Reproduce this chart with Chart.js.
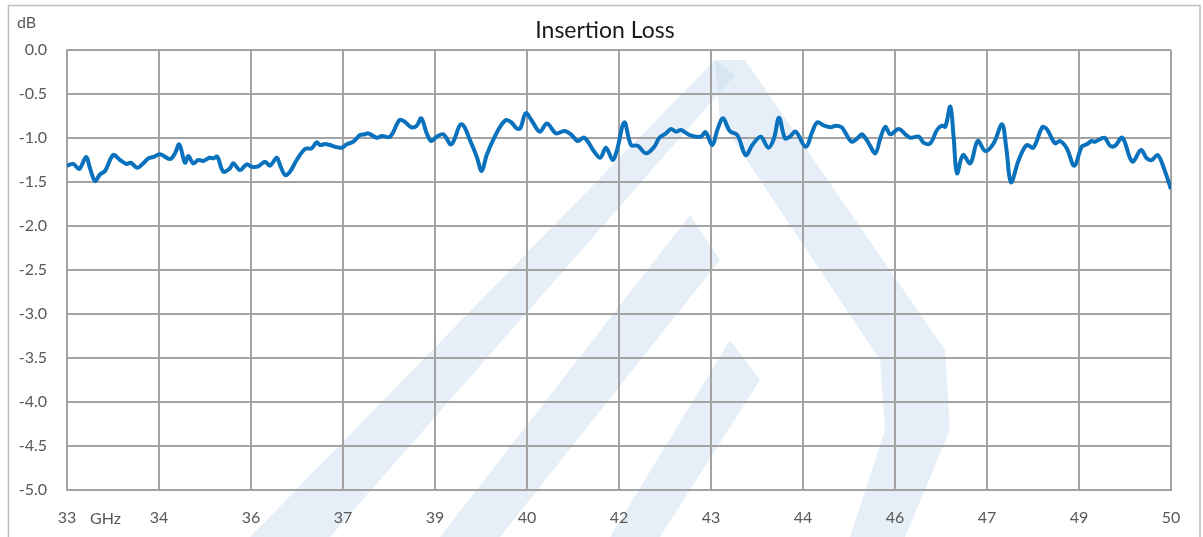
<!DOCTYPE html>
<html><head><meta charset="utf-8">
<script src="https://cdn.jsdelivr.net/npm/chart.js@4"></script>
<style>html,body{margin:0;padding:0;background:#fff;}#wrap{width:1203px;height:537px;position:relative;}</style>
</head><body><div id="wrap"><canvas id="c"></canvas></div>
<script>
const chartTitle = 'Insertion Loss';
const yUnit = 'dB';
const xUnit = 'GHz';
const xMin = 33, xMax = 50;
const xTickLabels = ['33','34','36','37','39','40','42','43','44','46','47','49','50'];
const freqGHz = [
33.000,33.097,33.189,33.293,33.354,33.431,33.508,33.585,33.713,33.816,33.919,33.981,34.083,34.175,34.252,34.329,34.432,34.586,34.663,34.729,34.817,34.868,34.945,35.022,35.099,35.191,35.253,35.314,35.407,35.510,35.561,35.664,35.767,35.844,35.946,36.049,36.126,36.229,36.280,36.357,36.434,36.537,36.665,36.768,36.845,36.896,36.973,37.050,37.127,37.230,37.307,37.409,37.512,37.589,37.640,37.769,37.846,37.974,38.123,38.200,38.302,38.385,38.456,38.539,38.610,38.693,38.795,38.918,39.072,39.226,39.309,39.386,39.463,39.586,39.688,39.765,39.842,39.925,39.980,40.063,40.150,40.279,40.391,40.530,40.658,40.761,40.864,40.966,41.120,41.212,41.300,41.403,41.469,41.582,41.685,41.788,41.916,42.044,42.121,42.224,42.301,42.378,42.455,42.583,42.686,42.763,42.835,42.937,43.014,43.102,43.205,43.322,43.451,43.553,43.682,43.799,43.887,43.964,44.056,44.129,44.221,44.375,44.477,44.554,44.657,44.760,44.837,44.929,44.991,45.083,45.170,45.242,45.345,45.447,45.524,45.601,45.678,45.807,45.909,45.986,46.115,46.192,46.294,46.397,46.474,46.525,46.602,46.654,46.705,46.797,46.910,47.023,47.141,47.270,47.398,47.464,47.536,47.655,47.778,47.880,48.018,48.086,48.214,48.291,48.394,48.511,48.625,48.702,48.779,48.830,48.973,49.061,49.138,49.251,49.404,49.538,49.626,49.703,49.795,49.882,50.000];
const lossDb = [
-1.315,-1.295,-1.352,-1.216,-1.344,-1.489,-1.413,-1.375,-1.193,-1.250,-1.295,-1.281,-1.338,-1.288,-1.231,-1.216,-1.185,-1.239,-1.174,-1.072,-1.281,-1.205,-1.288,-1.250,-1.261,-1.224,-1.231,-1.213,-1.383,-1.344,-1.288,-1.364,-1.299,-1.326,-1.322,-1.269,-1.315,-1.224,-1.307,-1.420,-1.383,-1.250,-1.125,-1.117,-1.049,-1.080,-1.068,-1.080,-1.099,-1.110,-1.072,-1.042,-0.966,-0.958,-0.947,-0.997,-0.977,-0.985,-0.795,-0.815,-0.878,-0.860,-0.776,-0.947,-1.034,-0.985,-0.958,-1.072,-0.844,-1.060,-1.213,-1.375,-1.193,-0.985,-0.852,-0.795,-0.822,-0.890,-0.890,-0.719,-0.795,-0.928,-0.835,-0.947,-0.920,-0.958,-1.034,-0.997,-1.156,-1.224,-1.110,-1.250,-1.136,-0.822,-1.080,-1.088,-1.174,-1.099,-0.997,-0.947,-0.898,-0.928,-0.909,-0.966,-0.985,-0.985,-0.935,-1.080,-0.909,-0.776,-0.920,-0.966,-1.193,-1.080,-0.985,-1.110,-1.003,-0.769,-1.003,-0.985,-0.928,-1.099,-0.928,-0.822,-0.860,-0.878,-0.860,-0.878,-0.947,-1.042,-1.003,-0.958,-1.060,-1.174,-1.003,-0.872,-0.958,-0.898,-0.958,-0.997,-0.985,-1.053,-1.060,-0.909,-0.860,-0.872,-0.644,-1.003,-1.401,-1.193,-1.288,-1.034,-1.148,-1.060,-0.844,-1.117,-1.503,-1.250,-1.080,-1.110,-0.878,-0.898,-1.060,-1.034,-1.117,-1.315,-1.099,-1.072,-1.034,-1.042,-0.997,-1.088,-1.088,-0.997,-1.269,-1.136,-1.231,-1.250,-1.193,-1.326,-1.580];

const FONT = 'Lato, "Liberation Sans", sans-serif';
const GRID = '#a3a3a3';
const TXT = '#595959';

const decor = {
  id: 'decor',
  beforeDraw(chart) {
    const ctx = chart.ctx;
    ctx.save();
    ctx.fillStyle = '#ffffff';
    ctx.fillRect(0, 0, chart.width, chart.height);
    // faint watermark (approximate)
    ctx.fillStyle = 'rgba(200,220,238,0.45)';
    const polys = [
      [[250,537],[330,537],[735,75],[715,60]],
      [[715,60],[745,60],[945,350],[950,430],[905,537],[850,537],[885,430],[880,360],[720,120]],
      [[440,537],[500,537],[720,260],[690,215]],
      [[610,537],[660,537],[760,380],[730,340]]
    ];
    for (const p of polys) {
      ctx.beginPath();
      p.forEach(([x,y],i)=> i?ctx.lineTo(x,y):ctx.moveTo(x,y));
      ctx.closePath();
      ctx.fill();
    }
    ctx.strokeStyle = '#bfbfbf';
    ctx.lineWidth = 1.5;
    ctx.strokeRect(8.5, 5.5, 1191.5, 560);
    ctx.restore();
  },
  afterDraw(chart) {
    const ctx = chart.ctx;
    ctx.save();
    ctx.fillStyle = '#1a1a1a';
    ctx.font = '23px ' + FONT;
    ctx.textAlign = 'center';
    ctx.textBaseline = 'middle';
    ctx.fillText(chartTitle, 605, 31);
    ctx.fillStyle = TXT;
    ctx.font = '16px ' + FONT;
    ctx.textAlign = 'left';
    ctx.fillText(yUnit, 17, 23);
    ctx.fillText(xUnit, 90, 519);
    ctx.restore();
  }
};

new Chart(document.getElementById('c'), {
  type: 'line',
  data: {
    datasets: [{
      data: freqGHz.map((f, i) => ({ x: f, y: lossDb[i] })),
      borderColor: '#0a72bc',
      borderWidth: 4,
      pointRadius: 0,
      tension: 0.35,
      fill: false
    }]
  },
  options: {
    responsive: true,
    maintainAspectRatio: false,
    animation: false,
    layout: { padding: { top: 50, right: 32, left: 0, bottom: 0 } },
    plugins: { legend: { display: false }, tooltip: { enabled: false }, title: { display: false } },
    scales: {
      x: {
        type: 'linear', min: xMin, max: xMax,
        afterBuildTicks(scale) {
          scale.ticks = xTickLabels.map((l, i) => ({ value: xMin + i * (xMax - xMin) / (xTickLabels.length - 1) }));
        },
        afterFit(scale) { scale.height = 47; },
        ticks: { callback: (v, i) => xTickLabels[i], color: TXT, font: { family: FONT, size: 16 }, padding: 18, maxRotation: 0, autoSkip: false },
        grid: { color: GRID, lineWidth: 2, drawTicks: false },
        border: { color: GRID, width: 2 }
      },
      y: {
        min: -5, max: 0,
        afterFit(scale) { scale.width = 67; },
        ticks: { stepSize: 0.5, callback: v => v.toFixed(1), color: TXT, font: { family: FONT, size: 16 }, padding: 20 },
        grid: { color: GRID, lineWidth: 2, drawTicks: false },
        border: { color: GRID, width: 2 }
      }
    }
  },
  plugins: [decor]
});
</script></body></html>
